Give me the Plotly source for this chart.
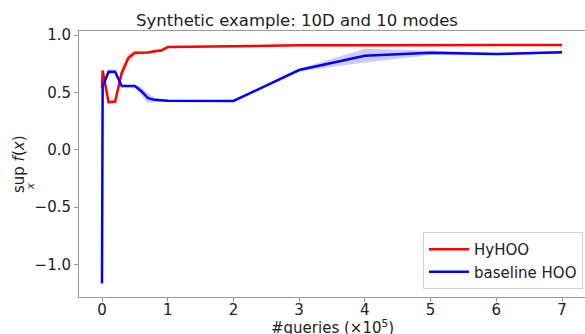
import plotly.graph_objects as go

# Query counts (in units of 1e5)
queries = [0.0, 0.01, 0.1, 0.2, 0.3, 0.4, 0.5, 0.6, 0.7, 0.8, 0.9, 1.0, 2, 3, 4, 5, 6, 7]

# HyHOO: mean best value and spread
hyhoo_mean = [0.54, 0.69, 0.415, 0.42, 0.67, 0.80, 0.845, 0.845, 0.847, 0.858, 0.865,
              0.895, 0.905, 0.91, 0.91, 0.912, 0.912, 0.913]
hyhoo_std = [0.01, 0.01, 0.015, 0.015, 0.04, 0.04, 0.02, 0.01, 0.01, 0.015, 0.01,
             0.01, 0.005, 0.005, 0.005, 0.005, 0.005, 0.005]

# Baseline HOO: mean best value and spread
hoo_mean = [-1.166, 0.55, 0.68, 0.68, 0.555, 0.555, 0.555, 0.51, 0.45, 0.435, 0.428,
            0.427, 0.425, 0.695, 0.82, 0.846, 0.834, 0.849]
hoo_std = [0.005, 0.01, 0.02, 0.02, 0.01, 0.01, 0.01, 0.04, 0.04, 0.02, 0.01,
           0.005, 0.005, 0.01, 0.06, 0.02, 0.01, 0.01]

x_ticks = [0, 1, 2, 3, 4, 5, 6, 7]
y_ticks = [-1.0, -0.5, 0.0, 0.5, 1.0]
y_ticklabels = ["\u22121.0", "\u22120.5", "0.0", "0.5", "1.0"]

FONT = "DejaVu Sans"
TXT = "#222222"
W, H = 585, 334
ML, MR, MT, MB = 79, 0, 31, 37

fig = go.Figure()


def add_series(x, mean, std, name, line_color, band_color):
    upper = [m + s for m, s in zip(mean, std)]
    lower = [m - s for m, s in zip(mean, std)]
    fig.add_trace(go.Scatter(x=x, y=upper, mode="lines", line=dict(width=0),
                             showlegend=False, hoverinfo="skip"))
    fig.add_trace(go.Scatter(x=x, y=lower, mode="lines", line=dict(width=0),
                             fill="tonexty", fillcolor=band_color,
                             showlegend=False, hoverinfo="skip"))
    fig.add_trace(go.Scatter(x=x, y=mean, mode="lines", name=name,
                             line=dict(color=line_color, width=2.5)))


add_series(queries, hyhoo_mean, hyhoo_std, "HyHOO", "#ff0000", "rgba(255,0,0,0.2)")
add_series(queries, hoo_mean, hoo_std, "baseline HOO", "#0000ff", "rgba(0,0,255,0.2)")

axis_common = dict(
    showgrid=False, zeroline=False, showline=True, mirror=True,
    linecolor="#9a9a9a", linewidth=1,
    ticks="outside", ticklen=4, tickcolor="#9a9a9a", tickwidth=1,
    tickfont=dict(family=FONT, size=15, color=TXT),
)

fig.update_layout(
    width=W, height=H,
    margin=dict(l=ML, r=MR, t=MT, b=MB),
    paper_bgcolor="white", plot_bgcolor="white",
    font=dict(family=FONT, color=TXT),
    title=dict(text="Synthetic example: 10D and 10 modes",
               font=dict(family=FONT, size=16.5, color=TXT),
               xref="container", x=297 / W, xanchor="center",
               yref="container", y=1 - 20 / H, yanchor="middle"),
    xaxis=dict(range=[-0.35, 7.35], tickvals=x_ticks, ticklabelstandoff=-5,
               **axis_common),
    yaxis=dict(range=[-1.283, 1.035], tickvals=y_ticks, ticktext=y_ticklabels,
               **axis_common),
    legend=dict(x=(583 - ML) / (W - ML - MR), y=0.03, xanchor="right", yanchor="bottom",
                traceorder="normal",
                bgcolor="white", bordercolor="#d0d0d0", borderwidth=1,
                font=dict(family=FONT, size=15, color=TXT),
                tracegroupgap=0, itemwidth=40),
    showlegend=True,
)

# x-axis label
fig.add_annotation(text="#queries (\u00d710<sup>5</sup>)", xref="paper", yref="paper",
                   x=0.5, y=0, xanchor="center", yanchor="top", yshift=-18,
                   showarrow=False, font=dict(family=FONT, size=15, color=TXT))

# y-axis label: sup over x of f(x)
fig.add_annotation(text="sup <i>f</i>(<i>x</i>)", xref="paper", yref="paper",
                   x=-ML / (W - ML - MR), y=0.5, xanchor="left", yanchor="middle",
                   xshift=8, yshift=0, textangle=-90, showarrow=False,
                   font=dict(family=FONT, size=15, color=TXT))
fig.add_annotation(text="<i>x</i>", xref="paper", yref="paper",
                   x=-ML / (W - ML - MR), y=0.5, xanchor="center", yanchor="middle",
                   xshift=30, yshift=-23, textangle=-90, showarrow=False,
                   font=dict(family=FONT, size=10, color=TXT))

fig.write_html("out.html")
